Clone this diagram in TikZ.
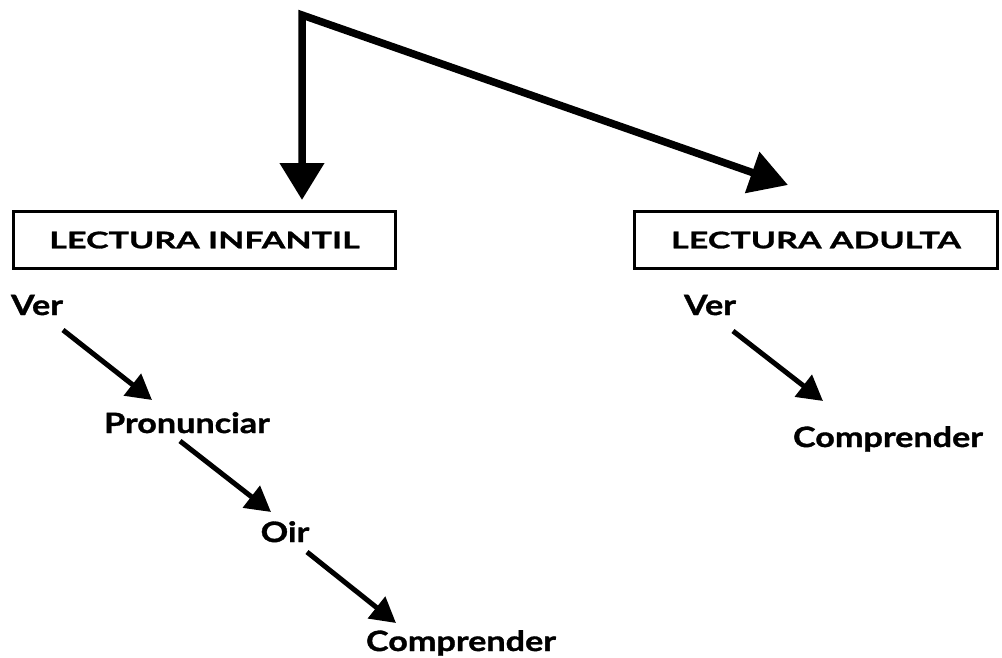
\documentclass[tikz,border=0pt]{standalone}
\usepackage{fontspec}
\setmainfont{Lato}
\newfontfamily\boxfont[FakeStretch=1.48,FakeBold=1.2]{Lato}
\newfontfamily\wordfont[FakeStretch=1.22,FakeBold=1.2]{Lato}
\usetikzlibrary{arrows.meta}
\tikzset{
  boxnode/.style={draw, line width=3pt, minimum height=57pt, inner sep=0pt, font=\boxfont\fontsize{23}{25}\selectfont\bfseries},
  word/.style={anchor=base, inner sep=0pt, font=\wordfont\fontsize{28}{30}\selectfont\bfseries},
  bigarr/.style={line width=7.5pt, line join=miter},
  smallarr/.style={line width=5pt, -{Triangle[length=25pt,width=27pt]}},
}
\begin{document}
\begin{tikzpicture}[x=1pt,y=-1pt]
\useasboundingbox (0,0) rectangle (1002,657);
\node[boxnode, minimum width=382pt] (inf) at (204.5,240) {LECTURA INFANTIL};
\node[boxnode, minimum width=363pt] (adu) at (816,240) {LECTURA ADULTA};
\coordinate (top) at (302,15);
\draw[bigarr, {Triangle[length=37pt,width=43pt]}-{Triangle[length=38pt,width=42pt]}, shorten <=10pt]
  (top |- inf.north) -- (top) -- ([xshift=-28pt,yshift=25pt]adu.north);
\node[word] (ver1) at (37,315) {Ver};
\node[word] (pron) at (187,433) {Pronunciar};
\node[word] (oir) at (285,542) {Oir};
\node[word] (comp1) at (461,651) {Comprender};
\node[word] (ver2) at (710,315) {Ver};
\node[word] (comp2) at (888,447) {Comprender};
\draw[smallarr] ([xshift=26pt,yshift=-15pt]ver1.base) -- ([xshift=-35pt,yshift=33pt]pron.base);
\draw[smallarr] ([xshift=-7pt,yshift=-8pt]pron.base) -- ([xshift=-14pt,yshift=30pt]oir.base);
\draw[smallarr] ([xshift=22pt,yshift=-10pt]oir.base) -- ([xshift=-65pt,yshift=28pt]comp1.base);
\draw[smallarr] ([xshift=23pt,yshift=-16pt]ver2.base) -- ([xshift=-65pt,yshift=46pt]comp2.base);
\end{tikzpicture}
\end{document}
